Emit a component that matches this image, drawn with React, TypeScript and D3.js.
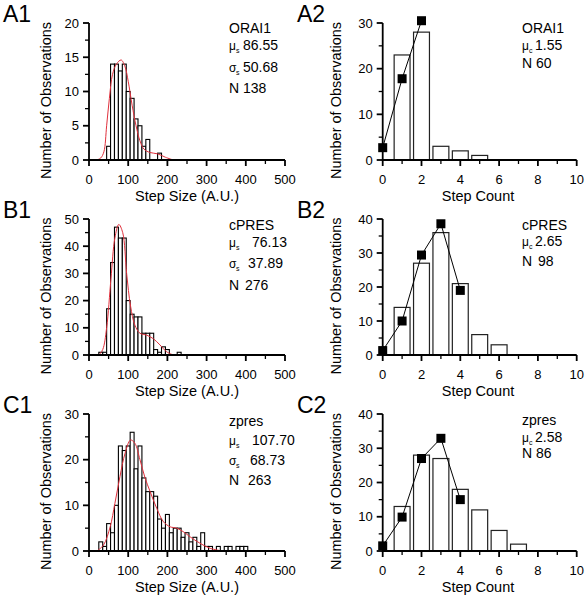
import React from 'react';
import * as d3 from 'd3';

const FONT = "'Liberation Sans', Arial, Helvetica, sans-serif";

// ---------- Step size histograms (bin width 10, values = bin centres) ----------
const a1Bins = [50, 60, 70, 80, 90, 100, 110, 120, 130, 140, 150, 160, 170, 180];
const a1Counts = [2, 14, 14, 13, 14, 10, 9, 6, 5, 2, 3, 0, 0, 1];
const a1FitX = [20, 30, 38, 45, 52, 60, 70, 82, 92, 100, 110, 120, 130, 140, 155, 175, 195, 215];
const a1FitY = [0, 0.3, 1.2, 5, 9, 12.5, 14, 14.6, 13.6, 11.5, 8, 5, 2.8, 1.6, 1.1, 0.9, 0.4, 0];

const b1Bins = [30, 40, 50, 60, 70, 80, 90, 100, 110, 120, 130, 140, 150, 160, 170, 180, 190, 200, 210, 220, 230];
const b1Counts = [1, 1, 17, 34, 47, 43, 43, 20, 15, 14, 14, 8, 8, 8, 2, 1, 3, 2, 0, 0, 1];
const b1FitX = [25, 35, 45, 56, 66, 76, 86, 96, 106, 117, 130, 147, 164, 181, 198, 215];
const b1FitY = [0, 2, 10, 28, 43, 48, 45, 30, 18, 11, 8, 7.3, 6, 3.7, 1.2, 0];

const c1Bins = [30, 40, 50, 60, 70, 80, 90, 100, 110, 120, 130, 140, 150, 160, 170, 180, 190, 200, 210, 220, 230, 240, 250, 260, 270, 280, 290, 300, 310, 320, 330, 340, 350, 360, 370, 380, 390, 400];
const c1Counts = [2, 1, 6, 4, 10, 23, 22, 23, 26, 18, 23, 16, 13, 13, 12, 7, 5, 8, 4, 5, 5, 3, 4, 2, 3, 1, 4, 1, 1, 0, 1, 0, 1, 1, 0, 1, 1, 1];
const c1FitX = [20, 37, 54, 66, 79, 92, 106, 117, 130, 143, 156, 173, 190, 207, 224, 241, 258, 283, 309, 340];
const c1FitY = [0, 1.3, 5.3, 10.4, 16.3, 21.4, 24.3, 23.6, 20, 16, 13, 9.3, 6.4, 5.3, 5, 4.2, 3.1, 1.7, 0.6, 0];

// ---------- Step count histograms ----------
const a2Steps = [1, 2, 3, 4, 5];
const a2Counts = [23, 28, 3, 2, 1];
const a2FitSteps = [0, 1, 2];
const a2FitVals = [2.7, 17.8, 30.5];

const b2Steps = [1, 2, 3, 4, 5, 6];
const b2Counts = [14, 27, 36, 21, 6, 3];
const b2FitSteps = [0, 1, 2, 3, 4];
const b2FitVals = [1.3, 10, 29.4, 38.6, 19];

const c2Steps = [1, 2, 3, 4, 5, 6, 7];
const c2Counts = [13, 28, 27, 18, 12, 6, 2];
const c2FitSteps = [0, 1, 2, 3, 4];
const c2FitVals = [1.5, 9.9, 27, 32.9, 15];

// tick labels
const sizeTicks = [0, 100, 200, 300, 400, 500];
const countTicks = [0, 2, 4, 6, 8, 10];

type AnnLine = { sym?: string; sub?: string; text: string; vx?: number };

type AxisProps = {
  x: d3.ScaleLinear<number, number>;
  y: d3.ScaleLinear<number, number>;
  xMajor: number[];
  xMinor: number[];
  yMajor: number[];
  yMinor: number[];
};

function Axes({ x, y, xMajor, xMinor, yMajor, yMinor }: AxisProps) {
  const x0 = x.range()[0], x1 = x.range()[1];
  const y0 = y.range()[0], y1 = y.range()[1];
  const sw = 1.8;
  return (
    <g stroke="#000" strokeWidth={sw} fill="none">
      <line x1={x0} x2={x1} y1={y0} y2={y0} />
      <line x1={x0} x2={x0} y1={y0 + 0.9} y2={y1} />
      {xMajor.map((v) => (
        <line key={'xM' + v} x1={x(v)} x2={x(v)} y1={y0} y2={y0 + 6} />
      ))}
      {xMinor.map((v) => (
        <line key={'xm' + v} x1={x(v)} x2={x(v)} y1={y0} y2={y0 + 4} strokeWidth={1.3} />
      ))}
      {yMajor.map((v) => (
        <line key={'yM' + v} x1={x0 - 6} x2={x0} y1={y(v)} y2={y(v)} />
      ))}
      {yMinor.map((v) => (
        <line key={'ym' + v} x1={x0 - 4} x2={x0} y1={y(v)} y2={y(v)} strokeWidth={1.3} />
      ))}
    </g>
  );
}

function TickLabels({ x, y, xTicks, yTicks }: { x: any; y: any; xTicks: number[]; yTicks: number[] }) {
  const x0 = x.range()[0];
  const y0 = y.range()[0];
  return (
    <g fontFamily={FONT} fontSize={13} fill="#000">
      {xTicks.map((v) => (
        <text key={'xl' + v} x={x(v)} y={y0 + 23.5} textAnchor="middle">{v}</text>
      ))}
      {yTicks.map((v) => (
        <text key={'yl' + v} x={x0 - 10} y={y(v) + 4.6} textAnchor="end">{v}</text>
      ))}
    </g>
  );
}

function Annotation({ x, y, lines, gaps }: { x: number; y: number; lines: AnnLine[]; gaps: number[] }) {
  let yy = y;
  return (
    <g fontFamily={FONT} fontSize={14} fill="#000">
      {lines.map((l, i) => {
        if (i > 0) yy += gaps[i - 1];
        if (l.sym) {
          return (
            <g key={i}>
              <text x={x} y={yy} fontSize={12}>{l.sym}</text>
              <text x={x + 7} y={yy + 3} fontSize={7}>{l.sub}</text>
              <text x={l.vx} y={yy}>{l.text}</text>
            </g>
          );
        }
        if (l.vx !== undefined) {
          return (
            <g key={i}>
              <text x={x} y={yy}>N</text>
              <text x={l.vx} y={yy}>{l.text}</text>
            </g>
          );
        }
        return <text key={i} x={x} y={yy}>{l.text}</text>;
      })}
    </g>
  );
}

type LeftProps = {
  top: number; bottom: number; yMax: number; yStep: number;
  bins: number[]; counts: number[]; fitX: number[]; fitY: number[];
  label: string; ann: AnnLine[]; annY: number; gaps: number[];
};

function SizePanel({ top, bottom, yMax, yStep, bins, counts, fitX, fitY, label, ann, annY, gaps }: LeftProps) {
  const x = d3.scaleLinear().domain([0, 500]).range([89, 285]);
  const y = d3.scaleLinear().domain([0, yMax]).range([bottom, top]);
  const yMajor = d3.range(0, yMax + 0.001, yStep);
  const yMinor = d3.range(yStep / 2, yMax, yStep);
  const line = d3.line<number>().x((d, i) => x(fitX[i])).y((d) => y(d)).curve(d3.curveCatmullRom.alpha(0.5));
  return (
    <g>
      <text x={3} y={top - 1} fontFamily={FONT} fontSize={23}>{label}</text>
      {bins.map((b, i) =>
        counts[i] > 0 ? (
          <rect key={b} x={x(b - 5)} y={y(counts[i])} width={x(b + 5) - x(b - 5)} height={y(0) - y(counts[i])}
            fill="#fff" stroke="#000" strokeWidth={1.1} />
        ) : null
      )}
      <path d={line(fitY) || ''} fill="none" stroke="#e0303c" strokeWidth={1} />
      <Axes x={x} y={y} xMajor={sizeTicks} xMinor={[50, 150, 250, 350, 450]} yMajor={yMajor} yMinor={yMinor} />
      <TickLabels x={x} y={y} xTicks={sizeTicks} yTicks={yMajor} />
      <text x={187} y={bottom + 40.5} textAnchor="middle" fontFamily={FONT} fontSize={14.5}>Step Size (A.U.)</text>
      <text transform={`translate(45.5,${(top + bottom) / 2 + 9}) rotate(-90)`} textAnchor="middle" dominantBaseline="central"
        fontFamily={FONT} fontSize={14.5}>Number of Observations</text>
      <Annotation x={229} y={annY} lines={ann} gaps={gaps} />
    </g>
  );
}

type RightProps = {
  top: number; bottom: number; yMax: number;
  steps: number[]; counts: number[]; fitSteps: number[]; fitVals: number[];
  label: string; ann: AnnLine[]; annY: number; gaps: number[];
};

function CountPanel({ top, bottom, yMax, steps, counts, fitSteps, fitVals, label, ann, annY, gaps }: RightProps) {
  const x = d3.scaleLinear().domain([0, 10]).range([382.7, 576.7]);
  const y = d3.scaleLinear().domain([0, yMax]).range([bottom, top]);
  const yMajor = d3.range(0, yMax + 0.001, 10);
  const yMinor = d3.range(5, yMax, 10);
  const line = d3.line<number>().x((d, i) => x(fitSteps[i])).y((d) => y(d));
  const hw = 0.41;
  return (
    <g>
      <text x={297} y={top - 1} fontFamily={FONT} fontSize={23}>{label}</text>
      {steps.map((s, i) => (
        <rect key={s} x={x(s - hw)} y={y(counts[i])} width={x(s + hw) - x(s - hw)} height={y(0) - y(counts[i])}
          fill="#fff" stroke="#222" strokeWidth={1.2} />
      ))}
      <Axes x={x} y={y} xMajor={countTicks} xMinor={[1, 3, 5, 7, 9]} yMajor={yMajor} yMinor={yMinor} />
      <path d={line(fitVals) || ''} fill="none" stroke="#000" strokeWidth={1} />
      {fitSteps.map((s, i) => (
        <rect key={'m' + s} x={x(s) - 4.5} y={y(fitVals[i]) - 4.5} width={9} height={9} fill="#000" />
      ))}
      <TickLabels x={x} y={y} xTicks={countTicks} yTicks={yMajor} />
      <text x={478} y={bottom + 40.5} textAnchor="middle" fontFamily={FONT} fontSize={14.5}>Step Count</text>
      <text transform={`translate(335.5,${(top + bottom) / 2 + 9}) rotate(-90)`} textAnchor="middle" dominantBaseline="central"
        fontFamily={FONT} fontSize={14.5}>Number of Observations</text>
      <Annotation x={522} y={annY} lines={ann} gaps={gaps} />
    </g>
  );
}

export default function App() {
  return (
    <svg width={588} height={600} style={{ position: 'absolute', left: 0, top: 0, background: '#fff' }}>
      <rect width={588} height={600} fill="#fff" />
      <SizePanel top={23} bottom={160} yMax={20} yStep={5} bins={a1Bins} counts={a1Counts} fitX={a1FitX} fitY={a1FitY}
        label="A1" annY={33} gaps={[17, 22, 21]}
        ann={[{ text: 'ORAI1' }, { sym: 'μ', sub: 's', text: '86.55', vx: 243 }, { sym: 'σ', sub: 's', text: '50.68', vx: 243 }, { text: '138', vx: 243 }]} />
      <CountPanel top={23} bottom={160} yMax={30} steps={a2Steps} counts={a2Counts} fitSteps={a2FitSteps} fitVals={a2FitVals}
        label="A2" annY={33} gaps={[17, 18]}
        ann={[{ text: 'ORAI1' }, { sym: 'μ', sub: 'c', text: '1.55', vx: 535 }, { text: '60', vx: 536 }]} />

      <SizePanel top={219} bottom={355} yMax={50} yStep={10} bins={b1Bins} counts={b1Counts} fitX={b1FitX} fitY={b1FitY}
        label="B1" annY={230} gaps={[17, 21, 22]}
        ann={[{ text: 'cPRES' }, { sym: 'μ', sub: 's', text: '76.13', vx: 252 }, { sym: 'σ', sub: 's', text: '37.89', vx: 248 }, { text: '276', vx: 245 }]} />
      <CountPanel top={219} bottom={355} yMax={40} steps={b2Steps} counts={b2Counts} fitSteps={b2FitSteps} fitVals={b2FitVals}
        label="B2" annY={230} gaps={[16, 20]}
        ann={[{ text: 'cPRES' }, { sym: 'μ', sub: 'c', text: '2.65', vx: 535 }, { text: '98', vx: 538 }]} />

      <SizePanel top={414} bottom={551} yMax={30} yStep={10} bins={c1Bins} counts={c1Counts} fitX={c1FitX} fitY={c1FitY}
        label="C1" annY={426} gaps={[19, 20, 20]}
        ann={[{ text: 'zpres' }, { sym: 'μ', sub: 's', text: '107.70', vx: 252 }, { sym: 'σ', sub: 's', text: '68.73', vx: 250 }, { text: '263', vx: 248 }]} />
      <CountPanel top={414} bottom={551} yMax={40} steps={c2Steps} counts={c2Counts} fitSteps={c2FitSteps} fitVals={c2FitVals}
        label="C2" annY={425} gaps={[17, 16]}
        ann={[{ text: 'zpres' }, { sym: 'μ', sub: 'c', text: '2.58', vx: 535 }, { text: '86', vx: 536 }]} />
    </svg>
  );
}
